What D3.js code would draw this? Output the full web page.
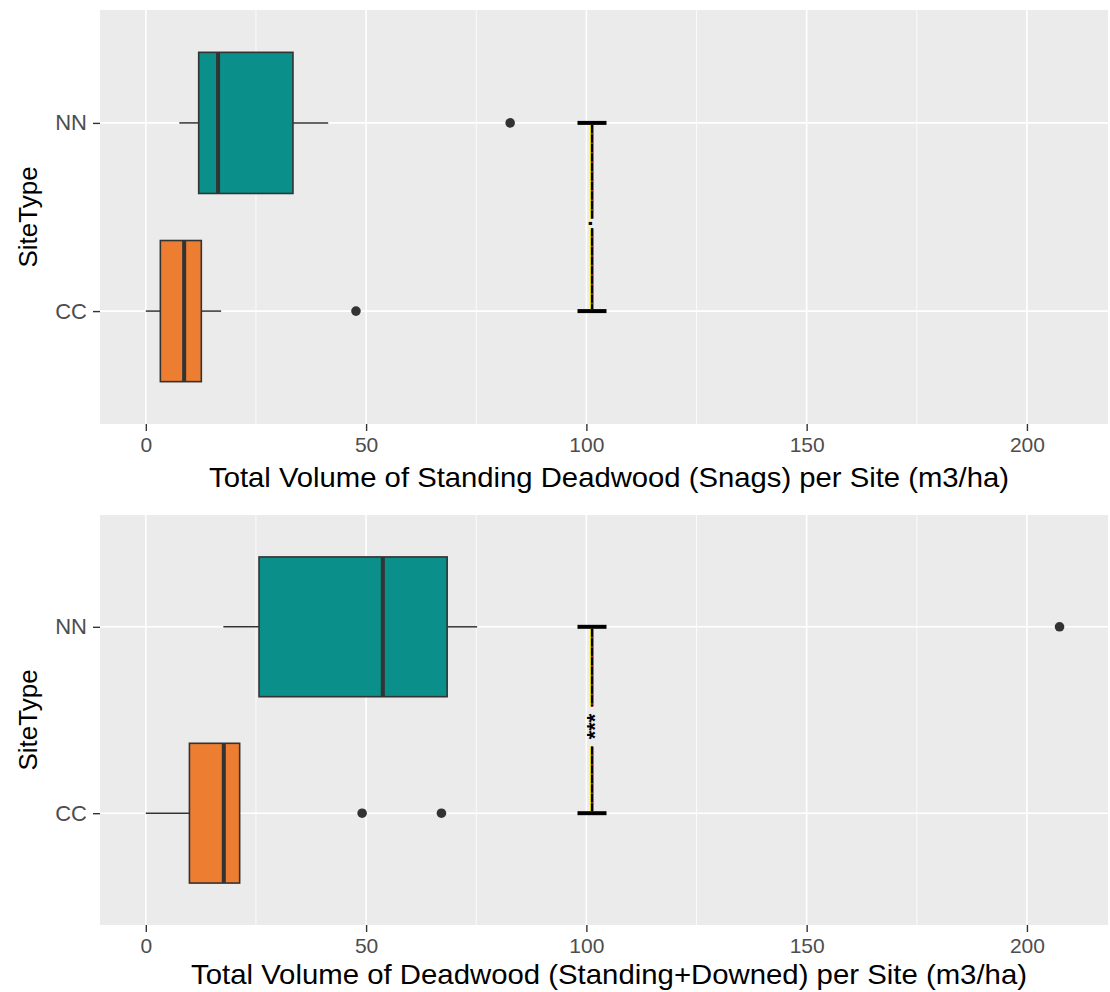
<!DOCTYPE html>
<html>
<head>
<meta charset="utf-8">
<script src="https://cdn.jsdelivr.net/npm/d3@7"></script>
<style>
  html, body { margin: 0; padding: 0; background: #ffffff; }
  svg { display: block; }
  text { font-family: "Liberation Sans", Arial, sans-serif; }
</style>
</head>
<body>
<svg id="chart" width="1110" height="992"></svg>
<script>
// Site types, bottom to top
const siteTypes = ["CC", "NN"];
const boxColors = ["#ED7D31", "#0A8F8A"];

// Standing deadwood (snags), m3/ha: five-number summaries per site type
const snagLow = [0, 7.6];
const snagQ1 = [3.3, 12.0];
const snagMedian = [8.7, 16.4];
const snagQ3 = [12.6, 33.4];
const snagHigh = [17.1, 41.4];
const snagOutliers = [[47.7], [82.7]];

// Total deadwood (standing + downed), m3/ha
const totalLow = [0, 17.6];
const totalQ1 = [9.9, 25.7];
const totalMedian = [17.7, 53.8];
const totalQ3 = [21.3, 68.4];
const totalHigh = [21.3, 75.2];
const totalOutliers = [[49.1, 67.1], [207.4]];

// Significance brackets (CC vs NN)
const signifX = [101.3, 101.3];
const signifLabels = [".", "***"];

const xTicks = [0, 50, 100, 150, 200];
const xMinor = [25, 75, 125, 175];
const xDomain = [-10.4, 218.4];

const svg = d3.select("#chart");

const panels = [
  {
    top: 10, bottom: 424, titleY: 487, titleLen: 800,
    low: snagLow, q1: snagQ1, med: snagMedian, q3: snagQ3, high: snagHigh, out: snagOutliers,
    sig: 0,
    title: "Total Volume of Standing Deadwood (Snags) per Site (m3/ha)"
  },
  {
    top: 515, bottom: 925, titleY: 984, titleLen: 836,
    low: totalLow, q1: totalQ1, med: totalMedian, q3: totalQ3, high: totalHigh, out: totalOutliers,
    sig: 1,
    title: "Total Volume of Deadwood (Standing+Downed) per Site (m3/ha)"
  }
];

const left = 100, right = 1108;
const labelSize = 22;
// how far above the baseline the ink of each symbol sits, in em
const inkRise = { ".": 0.0, "*": 0.47 };

panels.forEach(p => {
  const g = svg.append("g");
  const x = d3.scaleLinear().domain(xDomain).range([left, right]);
  const y = d3.scalePoint().domain(siteTypes).range([p.bottom, p.top]).padding(0.6);
  const step = y.step();
  const half = step * 0.375;

  // panel background
  g.append("rect").attr("x", left).attr("y", p.top)
    .attr("width", right - left).attr("height", p.bottom - p.top)
    .attr("fill", "#EBEBEB");

  // grid
  g.selectAll(".minor").data(xMinor).join("line")
    .attr("x1", d => x(d)).attr("x2", d => x(d))
    .attr("y1", p.top).attr("y2", p.bottom)
    .attr("stroke", "#ffffff").attr("stroke-width", 0.8);
  g.selectAll(".major").data(xTicks).join("line")
    .attr("x1", d => x(d)).attr("x2", d => x(d))
    .attr("y1", p.top).attr("y2", p.bottom)
    .attr("stroke", "#ffffff").attr("stroke-width", 1.6);
  g.selectAll(".hmajor").data(siteTypes).join("line")
    .attr("x1", left).attr("x2", right)
    .attr("y1", d => y(d)).attr("y2", d => y(d))
    .attr("stroke", "#ffffff").attr("stroke-width", 1.6);

  // boxplots
  siteTypes.forEach((s, i) => {
    const cy = y(s);
    const bg = g.append("g");
    bg.append("line")
      .attr("x1", x(p.low[i])).attr("x2", x(p.q1[i]))
      .attr("y1", cy).attr("y2", cy)
      .attr("stroke", "#333333").attr("stroke-width", 1.5);
    bg.append("line")
      .attr("x1", x(p.q3[i])).attr("x2", x(p.high[i]))
      .attr("y1", cy).attr("y2", cy)
      .attr("stroke", "#333333").attr("stroke-width", 1.5);
    bg.append("rect")
      .attr("x", x(p.q1[i])).attr("y", cy - half)
      .attr("width", x(p.q3[i]) - x(p.q1[i])).attr("height", 2 * half)
      .attr("fill", boxColors[i]).attr("stroke", "#333333").attr("stroke-width", 1.6);
    bg.append("line")
      .attr("x1", x(p.med[i])).attr("x2", x(p.med[i]))
      .attr("y1", cy - half).attr("y2", cy + half)
      .attr("stroke", "#333333").attr("stroke-width", 4);
    bg.selectAll("circle").data(p.out[i]).join("circle")
      .attr("cx", d => x(d)).attr("cy", cy).attr("r", 4.8)
      .attr("fill", "#333333");
  });

  // significance bracket
  const sx = Math.round(x(signifX[p.sig]));
  const yTop = y("NN"), yBot = y("CC");
  const label = signifLabels[p.sig];
  const labelY = (yTop + yBot) / 2 + 6.5;
  const sg = g.append("g");
  const lt = sg.append("text")
    .attr("transform", `translate(${sx + labelSize * inkRise[label[0]]},${labelY}) rotate(-90)`)
    .attr("text-anchor", "middle")
    .attr("font-size", labelSize).attr("font-weight", "bold")
    .attr("fill", "#000000")
    .text(label);
  const w = lt.node().getComputedTextLength();
  const pad = w * 0.28;
  const segs = [[yTop + 2, labelY - w / 2 - pad], [labelY + w / 2 + pad, yBot - 2]];
  segs.forEach(([a, b]) => {
    const line = (dx, color, width, dash) => sg.insert("line", "text")
      .attr("x1", sx + dx).attr("x2", sx + dx).attr("y1", a).attr("y2", b)
      .attr("stroke", color).attr("stroke-width", width)
      .attr("stroke-dasharray", dash || null);
    line(-1.5, "#D8D200", 1);
    line(1.5, "#00B8CC", 1);
    line(0, "#A02848", 2);
    line(0, "#000000", 2, "8,1.5");
  });
  [yTop, yBot].forEach(yy => {
    sg.append("line").attr("x1", sx - 14.5).attr("x2", sx + 14.5)
      .attr("y1", yy).attr("y2", yy)
      .attr("stroke", "#000000").attr("stroke-width", 4);
  });

  // x axis
  const xa = g.append("g").attr("transform", `translate(0,${p.bottom})`)
    .call(d3.axisBottom(x).tickValues(xTicks).tickSize(7).tickPadding(6).tickFormat(d3.format("d")));
  xa.select(".domain").remove();
  xa.selectAll(".tick line").attr("stroke", "#333333").attr("stroke-width", 1.4);
  xa.selectAll(".tick text").attr("fill", "#4D4D4D").attr("font-size", 21)
    .attr("font-family", "'Liberation Sans', Arial, sans-serif");

  // y axis
  const ya = g.append("g").attr("transform", `translate(${left},0)`)
    .call(d3.axisLeft(y).tickSize(7).tickPadding(6));
  ya.select(".domain").remove();
  ya.selectAll(".tick line").attr("stroke", "#333333").attr("stroke-width", 1.4);
  ya.selectAll(".tick text").attr("fill", "#4D4D4D").attr("font-size", 22)
    .attr("font-family", "'Liberation Sans', Arial, sans-serif");

  // axis titles
  g.append("text")
    .attr("x", (left + right) / 2 + 5).attr("y", p.titleY)
    .attr("text-anchor", "middle").attr("font-size", 28).attr("fill", "#000000")
    .attr("textLength", p.titleLen).attr("lengthAdjust", "spacingAndGlyphs")
    .text(p.title);
  g.append("text")
    .attr("transform", `translate(37,${(p.top + p.bottom) / 2}) rotate(-90)`)
    .attr("text-anchor", "middle").attr("font-size", 26).attr("fill", "#000000")
    .text("SiteType");
});
</script>
</body>
</html>
